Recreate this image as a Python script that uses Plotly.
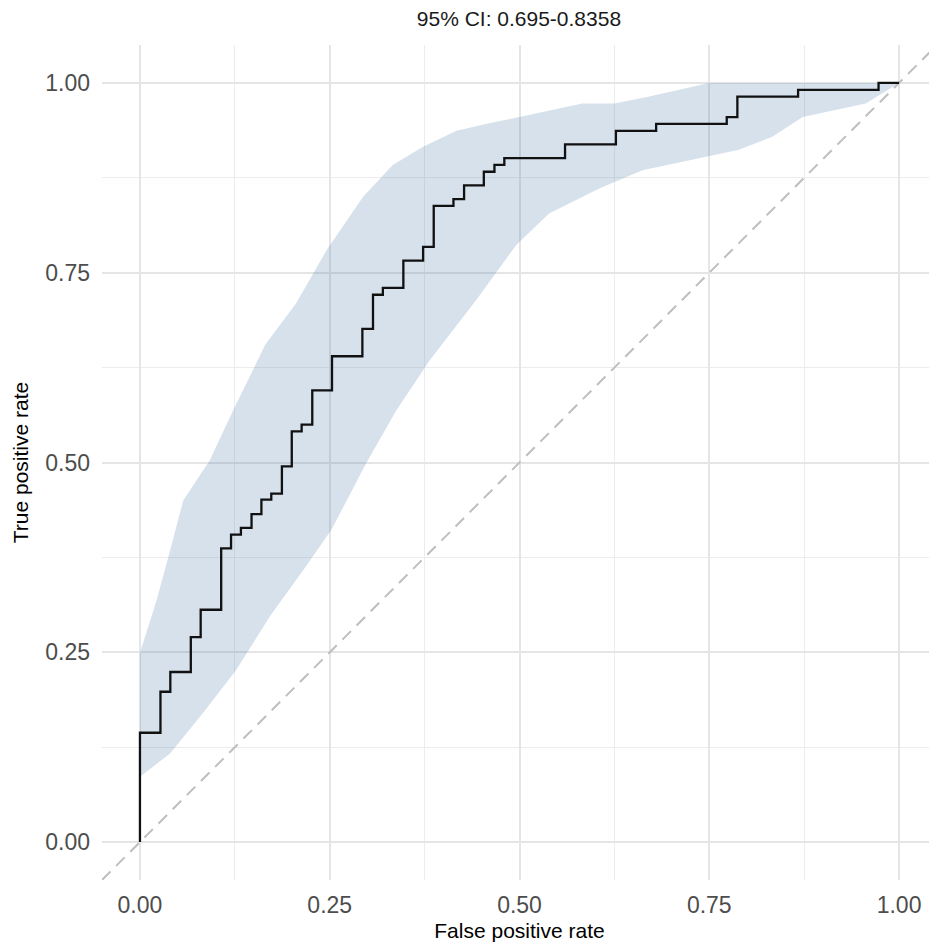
import plotly.graph_objects as go

# ROC step curve (corner points: at fpr the curve rises to tpr, then runs flat)
roc_fpr = [0.0, 0.0, 0.027, 0.04, 0.067, 0.08, 0.107, 0.12, 0.133, 0.147, 0.16,
           0.173, 0.187, 0.2, 0.213, 0.227, 0.253, 0.293, 0.307, 0.32, 0.347,
           0.373, 0.387, 0.413, 0.427, 0.453, 0.467, 0.48, 0.56, 0.627, 0.68,
           0.773, 0.787, 0.867, 0.973, 1.0]
roc_tpr = [0.0, 0.144, 0.198, 0.224, 0.27, 0.306, 0.387, 0.405, 0.414, 0.432, 0.451,
           0.459, 0.495, 0.541, 0.55, 0.595, 0.64, 0.676, 0.721, 0.73, 0.766,
           0.784, 0.838, 0.847, 0.865, 0.883, 0.892, 0.901, 0.919, 0.937, 0.946,
           0.955, 0.982, 0.991, 1.0, 1.0]

# Confidence band edges
upper_fpr = [0.0, 0.022, 0.04, 0.057, 0.092, 0.123, 0.165, 0.206, 0.246, 0.276,
             0.294, 0.333, 0.373, 0.417, 0.46, 0.5, 0.583, 0.625, 0.671, 0.75, 1.0]
upper_tpr = [0.249, 0.319, 0.385, 0.45, 0.503, 0.569, 0.655, 0.71, 0.78, 0.824,
             0.85, 0.892, 0.916, 0.937, 0.947, 0.955, 0.973, 0.973, 0.982, 1.0, 1.0]
lower_fpr = [0.0, 0.04, 0.083, 0.127, 0.171, 0.215, 0.252, 0.298, 0.338, 0.382,
             0.443, 0.496, 0.539, 0.605, 0.662, 0.789, 0.833, 0.873, 0.956, 1.0]
lower_tpr = [0.086, 0.117, 0.17, 0.227, 0.297, 0.358, 0.411, 0.499, 0.569, 0.635,
             0.714, 0.787, 0.828, 0.861, 0.885, 0.912, 0.929, 0.955, 0.973, 1.0]

tick_vals = [0.0, 0.25, 0.5, 0.75, 1.0]
tick_text = ["0.00", "0.25", "0.50", "0.75", "1.00"]
diag = [-0.05, 1.05]

fig = go.Figure()
fig.add_trace(go.Scatter(
    x=upper_fpr + lower_fpr[::-1], y=upper_tpr + lower_tpr[::-1],
    fill="toself", fillcolor="rgba(70,120,170,0.22)", line=dict(width=0),
    mode="lines", hoverinfo="skip", showlegend=False))
fig.add_trace(go.Scatter(
    x=diag, y=diag, mode="lines",
    line=dict(color="#bebebe", width=2, dash="12px,8px"), showlegend=False))
fig.add_trace(go.Scatter(
    x=roc_fpr, y=roc_tpr, mode="lines", line_shape="hv",
    line=dict(color="#111111", width=2.3), showlegend=False))

font = "Liberation Sans, Arial, Helvetica, sans-serif"
axis_common = dict(
    range=[-0.05, 1.05], tickvals=tick_vals, ticktext=tick_text,
    showgrid=True, gridcolor="#e5e5e5", gridwidth=1.6,
    minor=dict(tickvals=[0.125, 0.375, 0.625, 0.875], showgrid=True,
               gridcolor="#ececec", gridwidth=1.0),
    zeroline=False, showline=False, ticks="",
    tickfont=dict(family=font, size=23, color="#4d4d4d"),
)
fig.update_layout(
    width=929, height=934,
    margin=dict(l=94, r=0, t=37, b=62, autoexpand=False),
    paper_bgcolor="white", plot_bgcolor="white",
    title=dict(text="95% CI: 0.695-0.8358", x=0.55, xanchor="center",
               y=0.989, yanchor="middle",
               font=dict(family=font, size=21, color="#1a1a1a")),
    xaxis=dict(**axis_common, ticklabelstandoff=9,
               title=dict(text="False positive rate", standoff=6,
                          font=dict(family=font, size=21, color="#000000"))),
    yaxis=dict(**axis_common, ticklabelstandoff=11,
               title=dict(text="True positive rate", standoff=10,
                          font=dict(family=font, size=21, color="#000000"))),
)
fig.write_html("out.html")
